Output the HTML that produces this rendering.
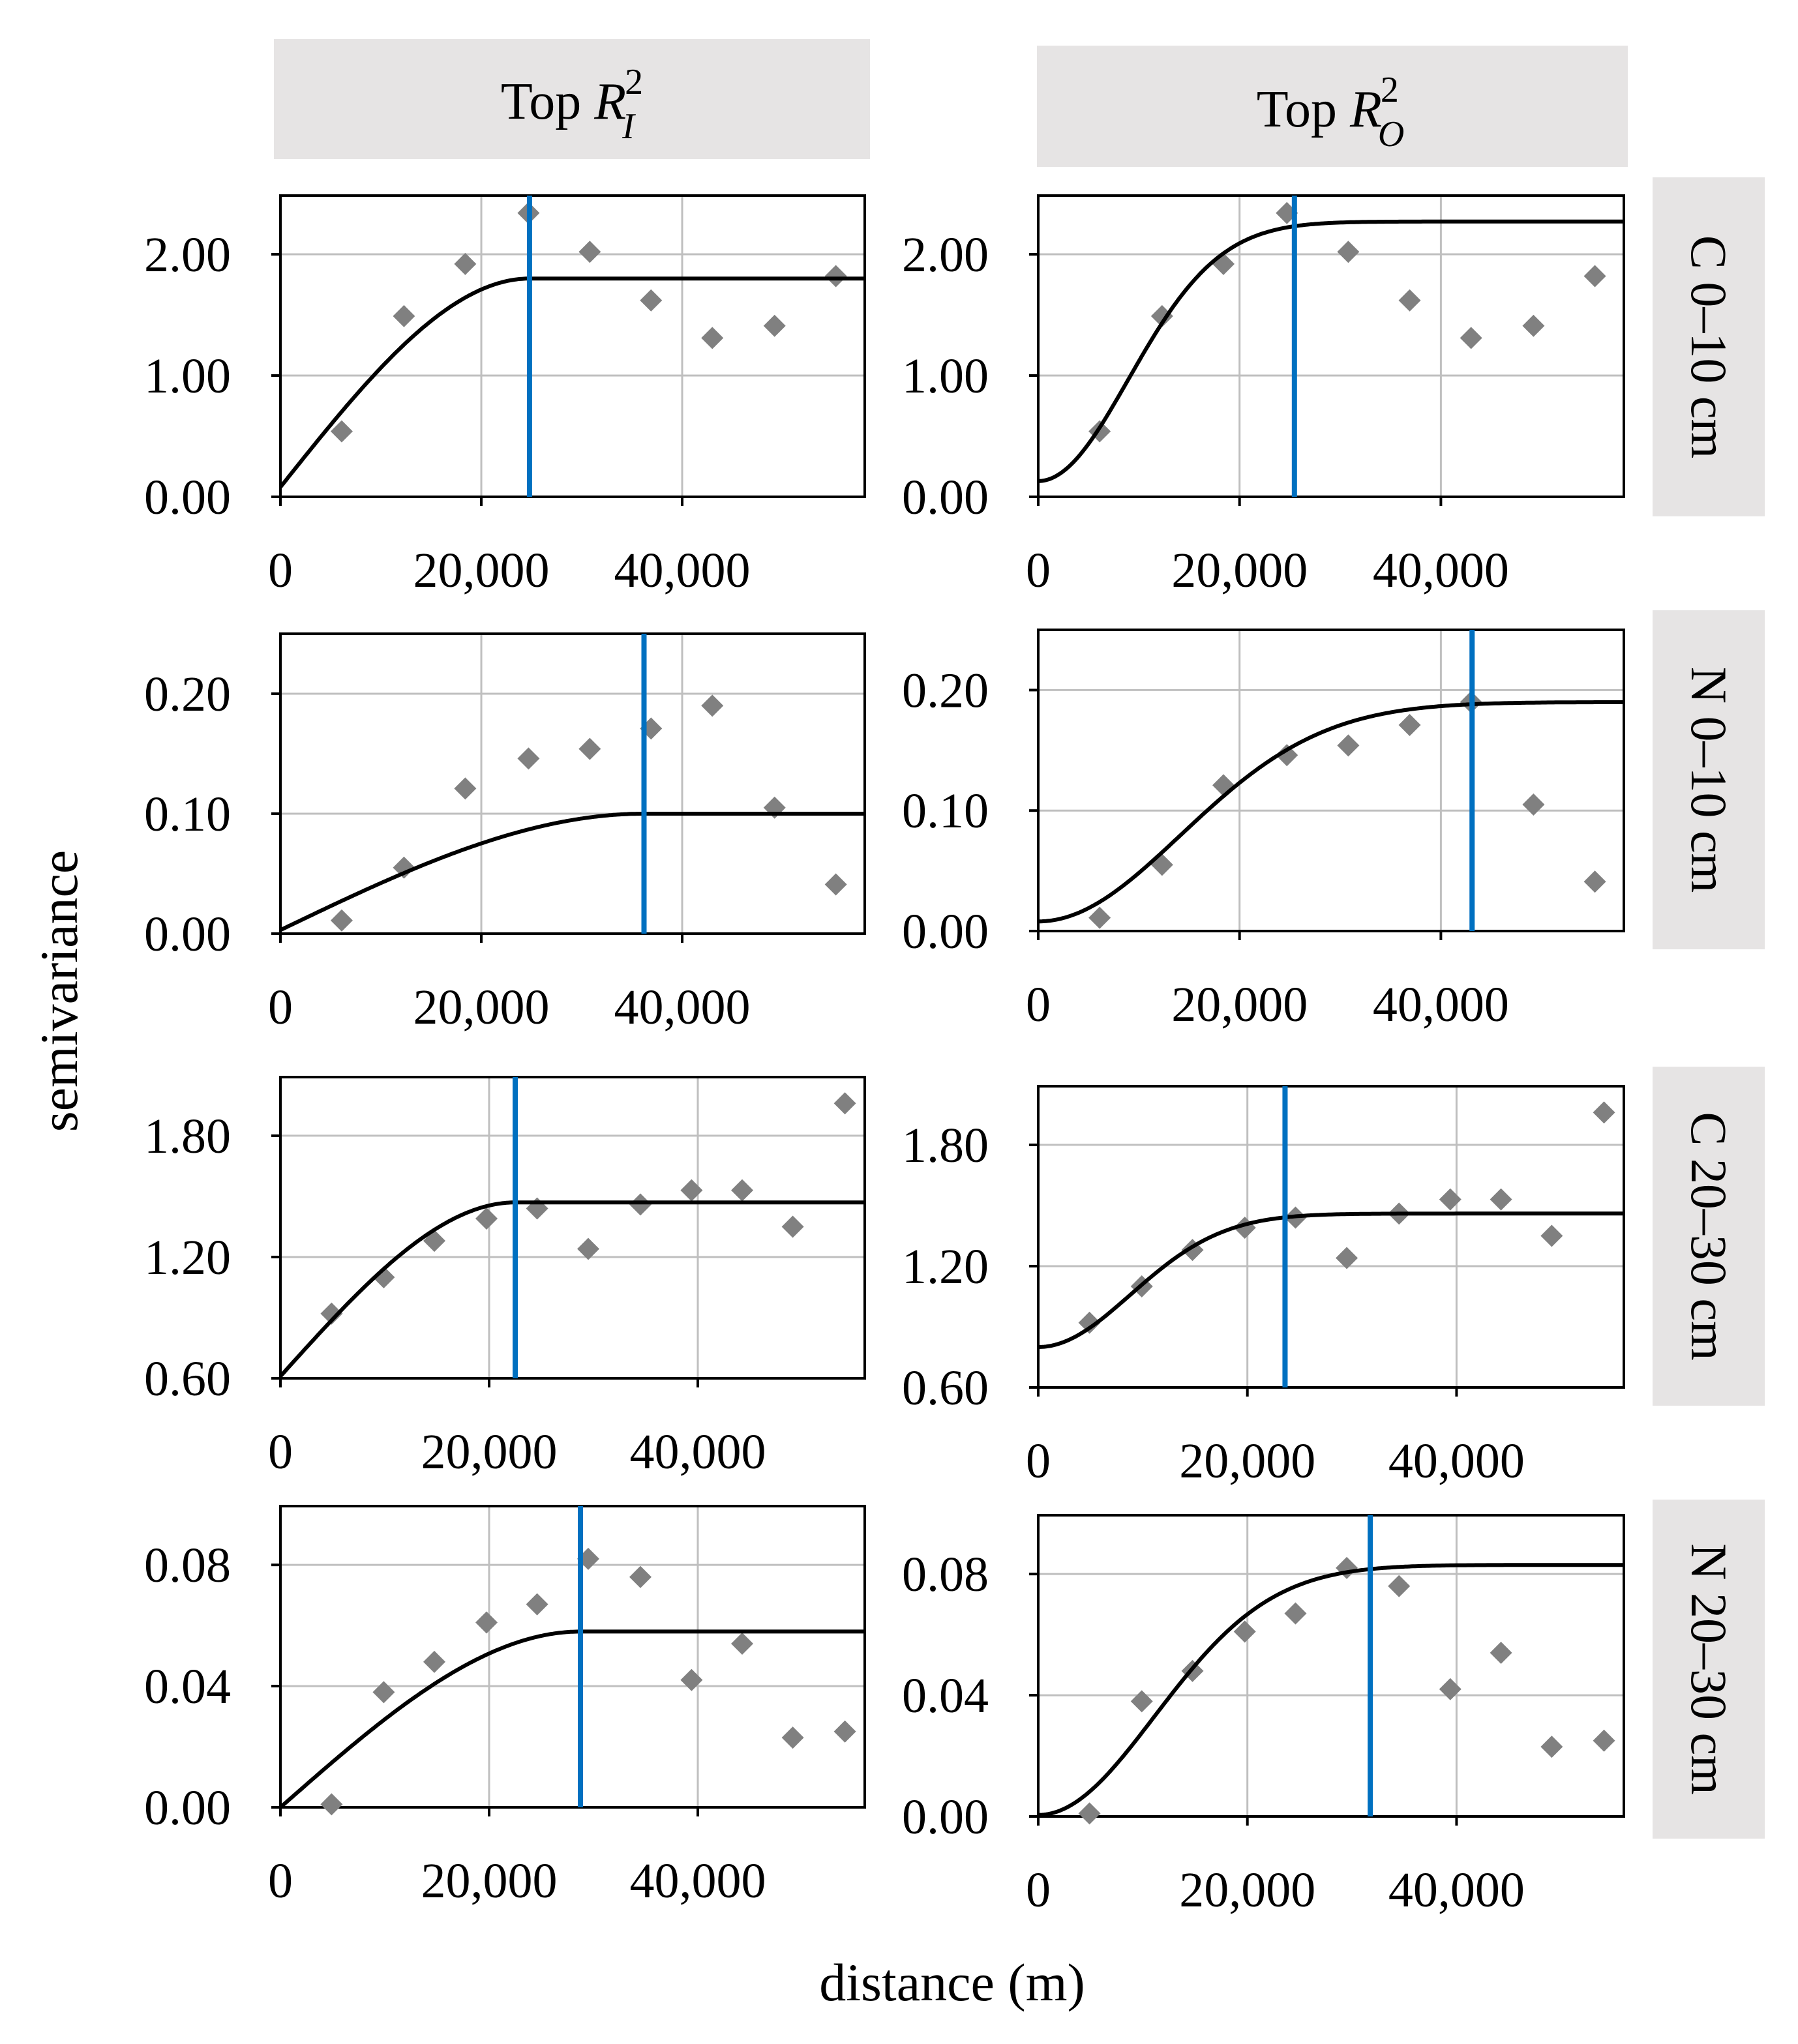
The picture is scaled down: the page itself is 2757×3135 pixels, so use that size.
<!DOCTYPE html>
<html><head><meta charset="utf-8"><style>
html,body{margin:0;padding:0;background:#fff}
svg{display:block}
text{font-family:"Liberation Serif",serif;fill:#000}
</style></head><body>
<svg id="chart" width="2757" height="3135" viewBox="0 0 2757 3135" xmlns="http://www.w3.org/2000/svg">
<rect x="0" y="0" width="2757" height="3135" fill="#fff"/>
<g>
<rect x="420" y="60" width="914" height="184" fill="#e6e4e4"/>
<text x="877" y="182" font-size="80" text-anchor="middle">Top <tspan font-style="italic">R</tspan><tspan font-size="56" dx="-2" dy="-38">2</tspan><tspan font-size="56" font-style="italic" dx="-32" dy="68">I</tspan></text>
</g>
<g>
<rect x="1590" y="70" width="906" height="186" fill="#e6e4e4"/>
<text x="2040" y="194" font-size="80" text-anchor="middle">Top <tspan font-style="italic">R</tspan><tspan font-size="56" dx="-2" dy="-38">2</tspan><tspan font-size="56" font-style="italic" dx="-32" dy="68">O</tspan></text>
</g>
<text x="0" y="0" font-size="82" text-anchor="middle" transform="translate(118,1520) rotate(-90)">semivariance</text>
<text x="1460" y="3068" font-size="82" text-anchor="middle">distance (m)</text>
<g id="panels"></g>
</svg>
<script>
// ---- data ----
const lagsA = [6100,12300,18400,24700,30800,36900,43000,49200,55300];
const lagsB = [4900,9900,14750,19750,24600,29500,34500,39400,44250,49100,54100];
const c010Vals = [0.54,1.49,1.92,2.34,2.02,1.62,1.31,1.41,1.82];
const n010Vals = [0.011,0.055,0.121,0.146,0.154,0.171,0.190,0.105,0.041];
const c2030Vals = [0.92,1.10,1.28,1.39,1.44,1.24,1.46,1.53,1.53,1.35,1.96];
const n2030Vals = [0.001,0.038,0.048,0.061,0.067,0.082,0.076,0.042,0.054,0.023,0.025];
// model params: [type, nugget, sill, range]
const modelC010I = ['sph',0.08,1.80,24800];
const modelC010O = ['gau',0.13,2.27,12700];
const modelN010I = ['sph',0.003,0.100,36200];
const modelN010O = ['gau',0.008,0.190,20000];
const modelC2030I = ['sph',0.61,1.47,22500];
const modelC2030O = ['gau',0.80,1.46,12500];
const modelN2030I = ['sph',0.0,0.058,28750];
const modelN2030O = ['gau',0.0005,0.083,15700];
const blueLines = [24800,25450,36200,43100,22500,23600,28750,31750];
const xTicks = [0,20000,40000];
const xTickLabels = ['0','20,000','40,000'];
const yTicks1 = [0,1,2], yTickLabels1 = ['0.00','1.00','2.00'];
const yTicks2 = [0,0.1,0.2], yTickLabels2 = ['0.00','0.10','0.20'];
const yTicks3 = [0.6,1.2,1.8], yTickLabels3 = ['0.60','1.20','1.80'];
const yTicks4 = [0,0.04,0.08], yTickLabels4 = ['0.00','0.04','0.08'];
const stripLabels = ['C 0\u201310 cm','N 0\u201310 cm','C 20\u201330 cm','N 20\u201330 cm'];

const NS='http://www.w3.org/2000/svg';
const root=document.getElementById('panels');
function mk(tag,attrs,parent){const e=document.createElementNS(NS,tag);for(const k in attrs)e.setAttribute(k,attrs[k]);(parent||root).appendChild(e);return e;}

const colX=[[430,1326],[1592,2490]];
const rows=[
 {xmax:58180,b:[762,762],t:[300,300],min:0,max:2.484,ticks:yTicks1,labs:yTickLabels1,lags:lagsA,vals:c010Vals,models:[modelC010I,modelC010O]},
 {xmax:58180,b:[1432,1428],t:[972,966],min:0,max:0.25,ticks:yTicks2,labs:yTickLabels2,lags:lagsA,vals:n010Vals,models:[modelN010I,modelN010O]},
 {xmax:56000,b:[2114,2128],t:[1652,1666],min:0.6,max:2.09,ticks:yTicks3,labs:yTickLabels3,lags:lagsB,vals:c2030Vals,models:[modelC2030I,modelC2030O]},
 {xmax:56000,b:[2772,2786],t:[2310,2324],min:0,max:0.0994,ticks:yTicks4,labs:yTickLabels4,lags:lagsB,vals:n2030Vals,models:[modelN2030I,modelN2030O]}
];
function model(m,h){const [t,n,s,a]=m;
 if(t==='sph'){if(h>=a)return s;const r=h/a;return n+(s-n)*(1.5*r-0.5*r*r*r);}
 return n+(s-n)*(1-Math.exp(-(h/a)*(h/a)));}
const stripY=[[272,792],[936,1456],[1636,2156],[2300,2820]];

rows.forEach((r,ri)=>{
 for(let c=0;c<2;c++){
  const [x0,x1]=colX[c], yb=r.b[c], yt=r.t[c], XMAX=r.xmax;
  const X=v=>x0+(v/XMAX)*(x1-x0);
  const Y=v=>yb-(v-r.min)/(r.max-r.min)*(yb-yt);
  const g=mk('g',{});
  
  
  xTicks.forEach(v=>{if(v>0){const l=mk('line',{x1:X(v),x2:X(v),y1:yt,y2:yb,stroke:'#bfbfbf','stroke-width':3},g);
   }});
  r.ticks.forEach(v=>{if(v>r.min){const l=mk('line',{x1:x0,x2:x1,y1:Y(v),y2:Y(v),stroke:'#bfbfbf','stroke-width':3},g);
   }});
  const fr=mk('rect',{x:x0,y:yt,width:x1-x0,height:yb-yt,fill:'none',stroke:'#000','stroke-width':4},g);
  
  xTicks.forEach((v,i)=>{
   mk('line',{x1:X(v),x2:X(v),y1:yb,y2:yb+14,stroke:'#000','stroke-width':4},g);
   const t=mk('text',{x:X(v),y:yb+138,'font-size':76,'text-anchor':'middle'},g);t.textContent=xTickLabels[i];
   });
  r.ticks.forEach((v,i)=>{
   mk('line',{x1:x0-14,x2:x0,y1:Y(v),y2:Y(v),stroke:'#000','stroke-width':4},g);
   const t=mk('text',{x:x0-76,y:Y(v)+26,'font-size':76,'text-anchor':'end'},g);t.textContent=r.labs[i];
   });
  r.lags.forEach((h,i)=>{const px=X(h),py=Y(r.vals[i]),d=17;
   const p=mk('polygon',{points:`${px},${py-d} ${px+d},${py} ${px},${py+d} ${px-d},${py}`,fill:'#808080'},g);
   });
  let pts=[];for(let k=0;k<=300;k++){const h=XMAX*k/300;pts.push(X(h).toFixed(1)+','+Y(model(r.models[c],h)).toFixed(1));}
  const cv=mk('polyline',{points:pts.join(' '),fill:'none',stroke:'#000','stroke-width':6},g);
  
  const bv=blueLines[ri*2+c];
  const bl=mk('line',{x1:X(bv),x2:X(bv),y1:yt,y2:yb,stroke:'#0070c0','stroke-width':8},g);
  
 }
 const [sy0,sy1]=stripY[ri];
 const sg=mk('g',{});
 
 
 mk('rect',{x:2534,y:sy0,width:172,height:sy1-sy0,fill:'#e6e4e4'},sg);
 const st=mk('text',{x:0,y:0,'font-size':78,'text-anchor':'middle',transform:`translate(2594,${(sy0+sy1)/2}) rotate(90)`},sg);
 st.textContent=stripLabels[ri];
});
</script>
</body></html>
